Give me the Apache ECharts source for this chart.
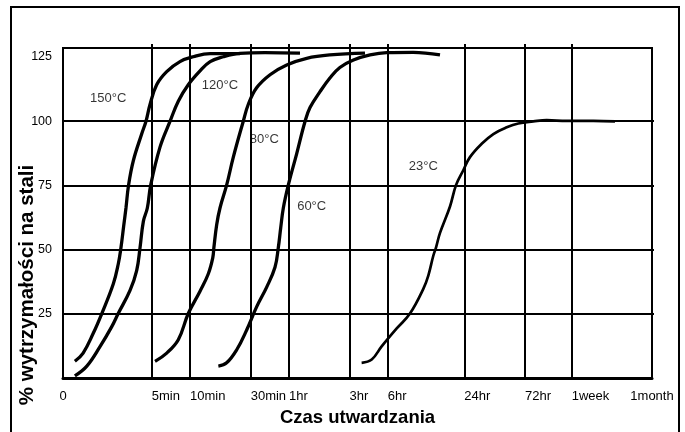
<!DOCTYPE html>
<html><head><meta charset="utf-8">
<script src="https://cdn.jsdelivr.net/npm/echarts@6/dist/echarts.min.js"></script>
<style>html,body{margin:0;padding:0;background:#fff}#c{width:685px;height:432px}</style>
</head><body><div id="c"></div>
<script>
// Axis ticks (time in minutes, log scale; "0" marks the 1-minute origin)
const xTickValues = [1, 5, 10, 30, 60, 180, 360, 1440, 4320, 10080, 43200];
const xTickLabels = ['0', '5min', '10min', '30min', '1hr', '3hr', '6hr', '24hr', '72hr', '1week', '1month'];
const yLabelValues = [25, 50, 75, 100, 125];
const yGridValues = [25, 50, 75, 100];

// Curves: time (minutes) and % strength
const curveNames = ['150°C', '120°C', '80°C', '60°C', '23°C'];
const t150 = [1.24, 1.44, 1.73, 2.02, 2.49, 2.72, 2.86, 3.0, 3.13, 3.28, 3.58, 4.16, 4.50, 4.84, 5.46, 6.55, 8.33, 10.6, 14.4, 24.7];
const v150 = [6.5, 9.7, 17.4, 25.1, 36.7, 44.3, 50.8, 59.0, 66.2, 75.1, 84.7, 95, 100, 106.5, 114.2, 119.3, 123.2, 125.1, 126.3, 126.3];
const t120 = [1.24, 1.54, 1.96, 2.42, 2.72, 3.37, 3.80, 4.04, 4.29, 4.61, 4.90, 5.80, 6.95, 8.08, 9.68, 11.98, 14.4, 18.3, 24.7, 38.9, 73.3];
const v120 = [0.8, 4.6, 12.3, 20, 25.1, 34.1, 41.8, 50.8, 61, 66.2, 75.1, 89.9, 99.9, 107.8, 114.2, 119.6, 123.2, 125.1, 126.4, 126.7, 126.5];
const t80 = [5.30, 6.55, 8.08, 9.68, 11.98, 13.9, 15.1, 15.4, 16.2, 17.2, 19.4, 21.9, 26.2, 28.7, 33.4, 42.6, 57.6, 82.8, 126, 238];
const v80 = [6.5, 9.7, 14.9, 25.1, 33.8, 40.5, 46.9, 50.8, 59.7, 66.2, 75.1, 86, 99.9, 106.5, 113, 118.1, 121.9, 124.5, 125.8, 126.5];
const t60 = [16.7, 19.4, 23.3, 27.9, 33.4, 40.1, 46.6, 49.5, 51.7, 54.2, 59.3, 69.0, 80.3, 87.9, 105.4, 126, 151, 193, 261, 353, 571, 927];
const v60 = [4.6, 5.9, 11, 18.7, 27.7, 35.4, 43.1, 50.8, 58.5, 66.2, 75.1, 87.3, 99.9, 105.3, 111.5, 116.8, 120.9, 123.8, 125.8, 126.7, 126.8, 125.8];
const t23 = [224, 269, 322, 423, 538, 685, 750, 821, 862, 927, 1111, 1239, 1414, 1595, 1973, 2437, 3105, 3830, 5025, 6410, 9200, 14930, 22100];
const v23 = [5.9, 7.2, 12.3, 19.3, 25.1, 34.7, 39.9, 47.6, 50.8, 56.5, 66.8, 75.1, 80.9, 86, 91.2, 95, 97.6, 99.1, 99.9, 100.4, 100.1, 100.1, 99.9];

// Curve label anchors (time, value)
const labelT = [2.27, 17.2, 38.4, 90.6, 685];
const labelV = [108.7, 113.8, 92.8, 66.8, 82.4];

const curvesT = [t150, t120, t80, t60, t23];
const curvesV = [v150, v120, v80, v60, v23];
const curveWidths = [3.3, 3.3, 3.3, 3.3, 2.7];

const FONT = '"Liberation Sans", Arial, sans-serif';
const chart = echarts.init(document.getElementById('c'), null, {renderer: 'canvas'});

const series = curvesT.map((ts, i) => ({
  type: 'line',
  name: curveNames[i],
  data: ts.map((t, j) => [t, curvesV[i][j]]),
  showSymbol: false,
  smooth: 0.4,
  lineStyle: {color: '#000', width: curveWidths[i]},
  z: 5,
  silent: true
}));
series.push({
  type: 'scatter',
  symbolSize: 1,
  itemStyle: {color: 'transparent'},
  data: curveNames.map((n, i) => ({name: n, value: [labelT[i], labelV[i]]})),
  label: {show: true, position: 'inside', formatter: '{b}', color: '#000', textBorderWidth: 0,
          fontFamily: FONT, fontSize: 13},
  z: 6,
  silent: true
});

chart.setOption({
  animation: false,
  backgroundColor: '#fff',
  grid: {left: 63, right: 33, top: 48, bottom: 50, show: true, borderColor: '#000', borderWidth: 2},
  xAxis: {
    type: 'log', logBase: 10, min: 1, max: 43200,
    name: 'Czas utwardzania', nameLocation: 'middle', nameGap: 30,
    nameTextStyle: {fontFamily: FONT, fontSize: 18.5, fontWeight: 'bold', color: '#000'},
    axisLine: {show: true, lineStyle: {color: '#000', width: 3}},
    splitLine: {show: false},
    minorTick: {show: false},
    axisTick: {show: true, customValues: xTickValues.slice(1, -1), inside: true, length: 334, lineStyle: {color: '#000', width: 2}},
    axisLabel: {
      customValues: xTickValues, margin: 12, align: 'left',
      alignMinLabel: 'center', alignMaxLabel: 'center',
      fontFamily: FONT, fontSize: 13, color: '#000',
      formatter: v => { const k = xTickValues.findIndex(x => Math.abs(x - v) / x < 1e-6); return k >= 0 ? xTickLabels[k] : ''; }
    }
  },
  yAxis: {
    type: 'value', min: 0, max: 128.5,
    axisLine: {show: true, lineStyle: {color: '#000', width: 2}},
    splitLine: {show: false},
    axisTick: {show: true, customValues: yGridValues, inside: true, length: 591, lineStyle: {color: '#000', width: 1.8}},
    axisLabel: {customValues: yLabelValues, margin: 11, fontFamily: FONT, fontSize: 12.5, color: '#000'}
  },
  graphic: [
    {type: 'rect', shape: {x: 11, y: 7, width: 668, height: 440}, style: {fill: 'none', stroke: '#000', lineWidth: 2}, silent: true},
    {type: 'text', x: 27, y: 285, rotation: Math.PI / 2,
     style: {text: '% wytrzymałości na stali', font: 'bold 20.5px ' + FONT, fill: '#000', textAlign: 'center', textVerticalAlign: 'middle'}}
  ],
  series: series
});
</script></body></html>
